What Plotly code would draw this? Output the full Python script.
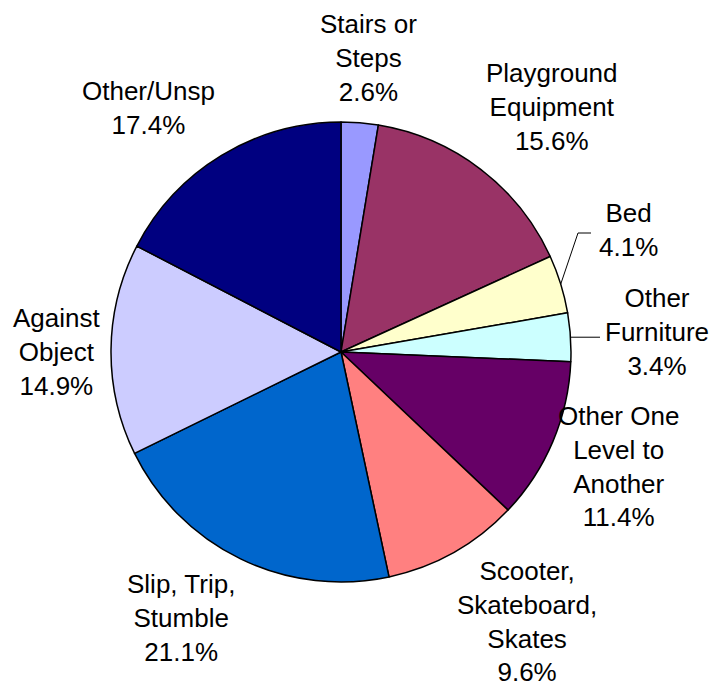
import math
import plotly.graph_objects as go

# Data
categories = ["Stairs or Steps", "Playground Equipment", "Bed", "Other Furniture",
              "Other One Level to Another", "Scooter, Skateboard, Skates",
              "Slip, Trip, Stumble", "Against Object", "Other/Unsp"]
label_text = ["Stairs or<br>Steps", "Playground<br>Equipment", "Bed", "Other<br>Furniture",
              "Other One<br>Level to<br>Another", "Scooter,<br>Skateboard,<br>Skates",
              "Slip, Trip,<br>Stumble", "Against<br>Object", "Other/Unsp"]
values = [2.6, 15.6, 4.1, 3.4, 11.4, 9.6, 21.1, 14.9, 17.4]

# Styles / layout
colors = ["#9999FF", "#993366", "#FFFFCC", "#CCFFFF", "#660066",
          "#FF8080", "#0066CC", "#CCCCFF", "#000080"]
W, H = 724, 690
CX, CY, R = 341, 352, 230
# label block centres (pixels)
label_pos = [(368, 58), (552, 107), (628, 230), (657, 332), (618, 466),
             (527, 621), (181, 618), (57, 352), (148, 108)]
FONT = "Liberation Sans, Arial, sans-serif"

fig = go.Figure(go.Pie(
    labels=categories, values=values, sort=False, direction="clockwise",
    rotation=0, textinfo="none", hoverinfo="label+percent",
    marker=dict(colors=colors, line=dict(color="black", width=1.5)),
    domain=dict(x=[(CX - R) / W, (CX + R) / W],
                y=[(H - CY - R) / H, (H - CY + R) / H]),
    showlegend=False,
))

def px(x, y):
    return x / W, 1 - y / H

anns = []
for txt, v, (lx, ly) in zip(label_text, values, label_pos):
    ax, ay = px(lx, ly)
    anns.append(dict(x=ax, y=ay, xref="paper", yref="paper", showarrow=False,
                     text=f"{txt}<br>{v:.1f}%", xanchor="center", yanchor="middle",
                     align="center", font=dict(family=FONT, size=26, color="black")))

# leader lines for Bed and Other Furniture, starting at slice mid-angle on the rim
total = sum(values)
cum = 0
mids = []
for v in values:
    mids.append((cum + v / 2) / total * 2 * math.pi)
    cum += v
shapes = []
def rim(i):
    a = mids[i]
    return CX + R * math.sin(a), CY - R * math.cos(a)
bx, by = rim(2)
pts = [(bx, by), (578, 233), (591, 233)]
path = "M " + " L ".join(f"{px(x, y)[0]},{px(x, y)[1]}" for x, y in pts)
shapes.append(dict(type="path", path=path, xref="paper", yref="paper",
                   line=dict(color="black", width=1)))
fx, fy = rim(3)
shapes.append(dict(type="line", x0=px(fx, fy)[0], y0=px(fx, fy)[1],
                   x1=px(600, fy)[0], y1=px(600, fy)[1], xref="paper", yref="paper",
                   line=dict(color="black", width=1)))

fig.update_layout(width=W, height=H, margin=dict(l=0, r=0, t=0, b=0),
                  paper_bgcolor="white", plot_bgcolor="white",
                  annotations=anns, shapes=shapes)
fig.write_html("out.html", config={"displayModeBar": False},
               post_script="document.body.style.margin='0';document.body.style.padding='0';")
